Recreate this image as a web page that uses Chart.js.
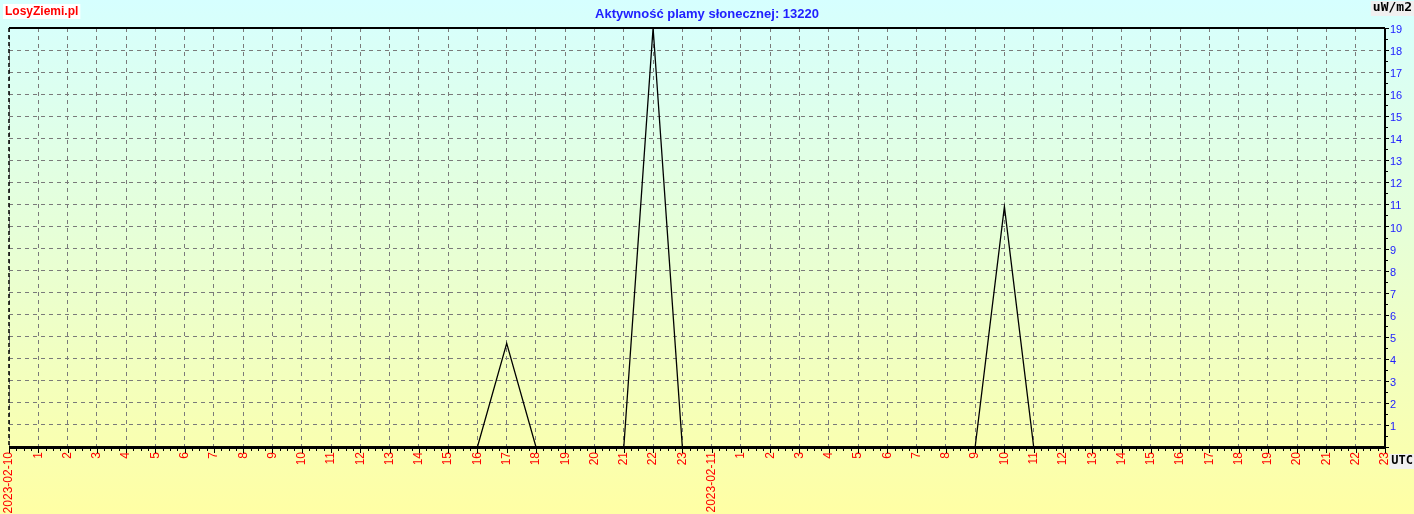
<!DOCTYPE html>
<html>
<head>
<meta charset="utf-8">
<script src="https://cdn.jsdelivr.net/npm/chart.js@4/dist/chart.umd.min.js"></script>
<style>
  html, body { margin: 0; padding: 0; overflow: hidden; background: #ffffa8; }
</style>
</head>
<body>
<canvas id="myChart" width="1414" height="514"></canvas>
<script>
// hourly categories, two days
var hourLabels = [
  '2023-02-10', '1', '2', '3', '4', '5', '6', '7', '8', '9', '10', '11',
  '12', '13', '14', '15', '16', '17', '18', '19', '20', '21', '22', '23',
  '2023-02-11', '1', '2', '3', '4', '5', '6', '7', '8', '9', '10', '11',
  '12', '13', '14', '15', '16', '17', '18', '19', '20', '21', '22', '23'
];

// activity of sunspot 13220, uW/m2
var activity = [
  0, 0, 0, 0, 0, 0, 0, 0, 0, 0, 0, 0,
  0, 0, 0, 0, 0, 4.7, 0, 0, 0, 0, 19, 0,
  0, 0, 0, 0, 0, 0, 0, 0, 0, 0, 10.9, 0,
  0, 0, 0, 0, 0, 0, 0, 0, 0, 0, 0, 0
];

var yTicks = [0, 1, 2, 3, 4, 5, 6, 7, 8, 9, 10, 11, 12, 13, 14, 15, 16, 17, 18, 19];

var chartTitle = 'Aktywność plamy słonecznej: 13220';
var siteName = 'LosyZiemi.pl';
var unitText = 'uW/m2';
var timeText = 'UTC';

//*******************background + frame*******************
var decor = {
  id: 'decor',
  beforeDraw: function (chart) {
    var c = chart.ctx;
    var g = c.createLinearGradient(0, 0, 0, chart.height);
    g.addColorStop(0, '#d6ffff');
    g.addColorStop(0.45, '#e6ffd8');
    g.addColorStop(1, '#ffffa4');
    c.save();
    c.fillStyle = g;
    c.fillRect(0, 0, chart.width, chart.height);
    c.restore();
  },
  afterDraw: function (chart) {
    var c = chart.ctx;
    var a = chart.chartArea;
    var xs = chart.scales.x;
    var ys = chart.scales.y;
    c.save();
    c.strokeStyle = '#000';

    // frame
    c.lineWidth = 2;
    c.beginPath(); c.moveTo(a.left, a.top); c.lineTo(a.right, a.top); c.stroke();
    c.lineWidth = 3;
    c.beginPath(); c.moveTo(a.left, a.bottom + 0.5); c.lineTo(a.right + 1, a.bottom + 0.5); c.stroke();
    c.lineWidth = 2;
    c.beginPath(); c.moveTo(a.right, a.top); c.lineTo(a.right, a.bottom); c.stroke();
    c.lineWidth = 1.5;
    c.setLineDash([4, 3]);
    c.beginPath(); c.moveTo(a.left, a.top); c.lineTo(a.left, a.bottom); c.stroke();
    c.setLineDash([]);

    // x ticks, major every hour, minor every quarter
    c.lineWidth = 1;
    c.beginPath();
    for (var i = 0; i < hourLabels.length; i++) {
      var px = Math.round(xs.getPixelForValue(i)) + 0.5;
      c.moveTo(px, a.bottom); c.lineTo(px, a.bottom + 6);
      if (i < hourLabels.length - 1) {
        var nx = xs.getPixelForValue(i + 1);
        for (var k = 1; k < 4; k++) {
          var mx = Math.round(xs.getPixelForValue(i) + k * (nx - xs.getPixelForValue(i)) / 4) + 0.5;
          c.moveTo(mx, a.bottom); c.lineTo(mx, a.bottom + 4);
        }
      }
    }
    c.stroke();

    // y ticks on the right, major + half
    c.beginPath();
    for (var j = 0; j < yTicks.length; j++) {
      var py = Math.round(ys.getPixelForValue(yTicks[j])) + 0.5;
      c.moveTo(a.right, py); c.lineTo(a.right + 4, py);
      if (j < yTicks.length - 1) {
        var hy = Math.round(ys.getPixelForValue(yTicks[j] + 0.5)) + 0.5;
        c.moveTo(a.right, hy); c.lineTo(a.right + 3, hy);
      }
    }
    c.stroke();

    // texts
    c.textBaseline = 'middle';
    c.font = 'bold 12px "Liberation Sans", Arial, sans-serif';
    var w = c.measureText(siteName).width;
    c.fillStyle = '#ffffff';
    c.fillRect(3, 4, w + 4, 15);
    c.fillStyle = '#ff0000';
    c.textAlign = 'left';
    c.fillText(siteName, 5, 12);

    c.font = 'bold 13px "Liberation Sans", Arial, sans-serif';
    c.fillStyle = '#2020ff';
    c.textAlign = 'center';
    c.fillText(chartTitle, 707, 14);

    c.font = 'bold 13px "DejaVu Sans Mono", "Liberation Mono", monospace';
    c.textAlign = 'right';
    w = c.measureText(unitText).width;
    c.fillStyle = '#f0f0f0';
    c.fillRect(1412 - w - 2, 1, w + 4, 15);
    c.fillStyle = '#000';
    c.fillText(unitText, 1412, 8);

    c.font = 'bold 12px "DejaVu Sans Mono", "Liberation Mono", monospace';
    w = c.measureText(timeText).width;
    c.fillStyle = '#f0f0f0';
    c.fillRect(1413 - w - 2, 454, w + 3, 15);
    c.fillStyle = '#000';
    c.fillText(timeText, 1413, 461);
    c.restore();
  }
};

var ctx = document.getElementById('myChart').getContext('2d');
var chart = new Chart(ctx, {
  type: 'line',
  data: {
    labels: hourLabels,
    datasets: [{
      label: 'Aktywność',
      data: activity,
      borderColor: '#000000',
      borderWidth: 1.3,
      pointRadius: 0,
      tension: 0,
      fill: false
    }]
  },
  options: {
    responsive: false,
    devicePixelRatio: 1,
    animation: false,
    layout: { padding: { left: 9, top: 28, right: 0, bottom: 0 } },
    plugins: {
      legend: { display: false },
      title: { display: false },
      tooltip: { enabled: false }
    },
    scales: {
      x: {
        type: 'category',
        offset: false,
        border: { display: false, dash: [4, 4] },
        grid: {
          color: '#7a7a7a',
          lineWidth: 1,
          drawTicks: false
        },
        ticks: {
          autoSkip: false,
          minRotation: 90,
          maxRotation: 90,
          padding: 5,
          color: '#ff0000',
          font: { family: '"Liberation Sans", Arial, sans-serif', size: 12 }
        },
        afterFit: function (scale) { scale.height = 67; }
      },
      y: {
        position: 'right',
        min: 0,
        max: 19,
        border: { display: false, dash: [4, 4] },
        grid: {
          color: '#7a7a7a',
          lineWidth: 1,
          drawTicks: false
        },
        ticks: {
          stepSize: 1,
          padding: 5,
          labelOffset: 2,
          color: '#2020ff',
          font: { family: '"Liberation Sans", Arial, sans-serif', size: 11 },
          callback: function (v) { return v === 0 ? '' : v; }
        },
        afterFit: function (scale) { scale.width = 29; }
      }
    }
  },
  plugins: [decor]
});
</script>
</body>
</html>
